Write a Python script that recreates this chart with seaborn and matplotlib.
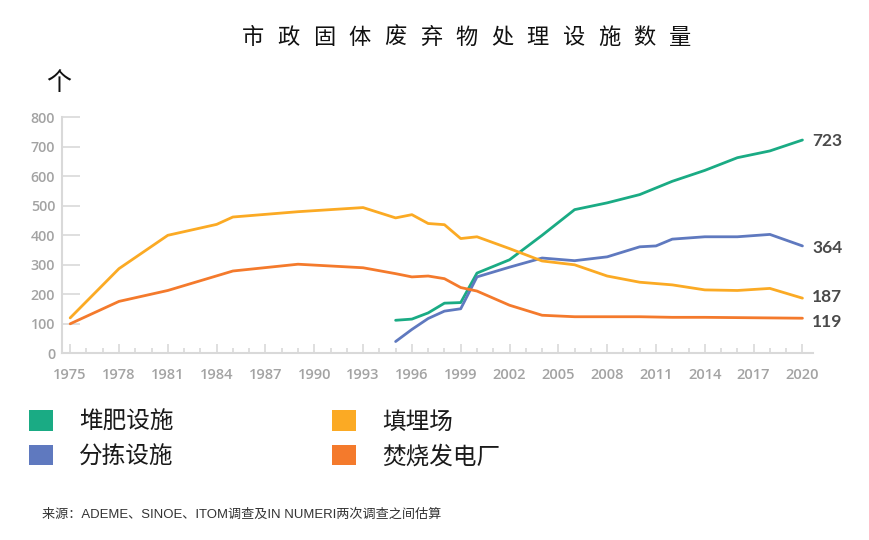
import matplotlib
matplotlib.use("Agg")
import matplotlib.pyplot as plt
from matplotlib.patches import Patch
import seaborn as sns
import pandas as pd

# ---------------- data ----------------
series_names = ["堆肥设施", "分拣设施", "填埋场", "焚烧发电厂"]
series_colors = ["#1aab84", "#5f79bf", "#fbaa24", "#f47a2c"]

compost_years = [1995, 1996, 1997, 1998, 1999, 2000, 2002, 2004, 2006, 2008,
                 2010, 2012, 2014, 2016, 2018, 2020]
compost_values = [112, 116, 137, 170, 172, 272, 317, 400, 487, 510,
                  538, 583, 620, 663, 686, 723]

sorting_years = [1995, 1996, 1997, 1998, 1999, 2000, 2002, 2004, 2006, 2008,
                 2010, 2011, 2012, 2014, 2016, 2018, 2020]
sorting_values = [40, 81, 118, 143, 151, 259, 292, 323, 314, 327,
                  361, 364, 387, 395, 395, 403, 364]

landfill_years = [1975, 1978, 1981, 1984, 1985, 1989, 1993, 1995, 1996, 1997,
                  1998, 1999, 2000, 2002, 2004, 2006, 2008, 2010, 2012, 2014,
                  2016, 2018, 2020]
landfill_values = [120, 287, 400, 437, 462, 480, 494, 459, 470, 440,
                   436, 389, 395, 355, 313, 300, 262, 241, 232, 215,
                   213, 220, 187]

incin_years = [1975, 1978, 1981, 1985, 1989, 1993, 1995, 1996, 1997, 1998,
               1999, 2000, 2002, 2004, 2006, 2008, 2010, 2012, 2014, 2016,
               2018, 2020]
incin_values = [100, 176, 213, 279, 302, 290, 270, 259, 262, 253,
                223, 211, 163, 129, 124, 124, 124, 122, 122, 121,
                120, 119]

end_labels = ["723", "364", "187", "119"]
x_tick_years = list(range(1975, 2021, 3))
y_ticks = list(range(0, 801, 100))

title_text = "市政固体废弃物处理设施数量"
unit_text = "个"
source_text = "来源：ADEME、SINOE、ITOM调查及IN NUMERI两次调查之间估算"

# ---------------- build table ----------------
frames = []
for name, yrs, vals in zip(series_names,
                           [compost_years, sorting_years, landfill_years, incin_years],
                           [compost_values, sorting_values, landfill_values, incin_values]):
    frames.append(pd.DataFrame({"year": yrs, "value": vals, "type": name}))
df = pd.concat(frames, ignore_index=True)
palette = dict(zip(series_names, series_colors))

# ---------------- style ----------------
sns.set_style("white")
plt.rcParams["font.family"] = ["Open Sans", "Noto Sans CJK SC", "DejaVu Sans"]

fig = plt.figure(figsize=(8.7, 5.4), dpi=100)
ax = fig.add_axes([0.0713, 0.3457, 0.8632, 0.4371])

sns.lineplot(data=df, x="year", y="value", hue="type", palette=palette,
             hue_order=series_names, linewidth=2.0, legend=False, ax=ax,
             estimator=None, sort=True)

ax.set_xlim(1974.5, 2020.65)
ax.set_ylim(0, 800)
ax.set_xlabel("")
ax.set_ylabel("")

for s in ["top", "right"]:
    ax.spines[s].set_visible(False)
for s in ["left", "bottom"]:
    ax.spines[s].set_color("#d9d9d9")
    ax.spines[s].set_linewidth(1.5)

ax.set_yticks(y_ticks)
ax.set_yticklabels([str(v) for v in y_ticks])
ax.tick_params(axis="y", direction="in", length=13, width=1.2, color="#d9d9d9",
               pad=5, labelsize=10.3, labelcolor="#a3a3a3", left=True)

ax.set_xticks(x_tick_years)
ax.set_xticklabels([str(v) for v in x_tick_years])
ax.set_xticks(list(range(1975, 2021)), minor=True)
ax.tick_params(axis="x", which="major", direction="in", length=6.5, width=1.2,
               color="#d9d9d9", pad=10.5, labelsize=10.5, labelcolor="#a3a3a3",
               bottom=True)
ax.tick_params(axis="x", which="minor", direction="in", length=3.5, width=1.2,
               color="#d9d9d9", bottom=True)
for lab in ax.get_xticklabels() + ax.get_yticklabels():
    lab.set_fontweight("semibold")

# end labels
last_values = [compost_values[-1], sorting_values[-1], landfill_values[-1], incin_values[-1]]
last_years = [compost_years[-1], sorting_years[-1], landfill_years[-1], incin_years[-1]]
dys = [-1, -1.5, 1, -2.5]
for lab, xv, yv, dy in zip(end_labels, last_years, last_values, dys):
    ax.annotate(lab, xy=(xv, yv), xytext=(7, dy), textcoords="offset points",
                ha="left", va="center", fontsize=12.5, fontweight="bold",
                color="#4a4a4a", family=["Lato", "DejaVu Sans"],
                annotation_clip=False)

# title, letter spaced
W, H = 870.0, 540.0
x0, step = 253.0, 35.6
for i, ch in enumerate(title_text):
    fig.text((x0 + i * step) / W, 1 - 37.5 / H, ch, ha="center", va="center",
             fontsize=16, color="#111111", family=["Noto Sans CJK SC"])

fig.text(59 / W, 1 - 83 / H, unit_text, ha="center", va="center",
         fontsize=18, color="#111111", family=["Noto Sans CJK SC"])

# legend
handles = [Patch(facecolor=c, edgecolor="none", label=n)
           for n, c in zip(series_names, series_colors)]
fig.legend(handles=handles, loc="upper left", ncol=2,
           bbox_to_anchor=(29 / W, 1 - 410 / H), frameon=False,
           prop={"family": ["Noto Sans CJK SC"], "size": 17},
           labelcolor="#1a1a1a", handlelength=1.02, handleheight=0.97,
           handletextpad=1.1, labelspacing=0.48, columnspacing=6.7,
           borderpad=0, borderaxespad=0)

fig.text(42 / W, 1 - 515 / H, source_text, ha="left", va="center",
         fontsize=9.45, color="#333333",
         family=["Liberation Sans", "Noto Sans CJK SC"])

fig.savefig("out.png", dpi=100)
